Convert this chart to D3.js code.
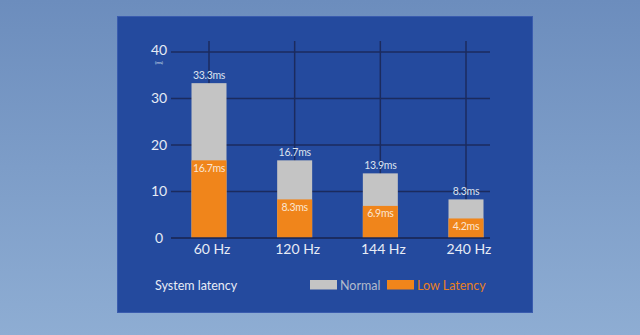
<!DOCTYPE html>
<html>
<head>
<meta charset="utf-8">
<script src="https://cdn.jsdelivr.net/npm/d3@7/dist/d3.min.js"></script>
<style>
  html, body { margin: 0; padding: 0; }
  body { width: 640px; height: 335px; overflow: hidden; }
  svg { display: block; font-family: Lato, "Open Sans", sans-serif; }
</style>
</head>
<body>
<svg id="chart" width="640" height="335"></svg>
<script>
// ---- data ----
const categories = ["60 Hz", "120 Hz", "144 Hz", "240 Hz"];
const normalValues = [33.3, 16.7, 13.9, 8.3];
const lowLatencyValues = [16.7, 8.3, 6.9, 4.2];
const normalLabels = ["33.3ms", "16.7ms", "13.9ms", "8.3ms"];
const lowLatencyLabels = ["16.7ms", "8.3ms", "6.9ms", "4.2ms"];
const yTicks = [0, 10, 20, 30, 40];
const legendItems = ["Normal", "Low Latency"];

const svg = d3.select("#chart");

// background gradient
const defs = svg.append("defs");
const bg = defs.append("linearGradient").attr("id", "bg").attr("x1", 0).attr("y1", 0).attr("x2", 0).attr("y2", 1);
bg.append("stop").attr("offset", "0%").attr("stop-color", "#6c8dbd");
bg.append("stop").attr("offset", "100%").attr("stop-color", "#8eadd3");
svg.append("rect").attr("width", 640).attr("height", 335).attr("fill", "url(#bg)");

// panel
svg.append("rect").attr("x", 117.5).attr("y", 16.5).attr("width", 415).attr("height", 296)
  .attr("fill", "#244a9e").attr("stroke", "#3a5cae").attr("stroke-width", 1);

// scales
const y = d3.scaleLinear().domain([0, 40]).range([238, 52]);
const x = d3.scalePoint().domain(categories).range([209, 466]);
const barW = 35;

const grid = svg.append("g");
grid.selectAll("line.h").data(yTicks).join("line")
  .attr("x1", 171).attr("x2", 490)
  .attr("y1", d => y(d)).attr("y2", d => y(d))
  .attr("stroke", "#1b2b5e").attr("stroke-width", 1.5);
grid.selectAll("line.v").data(categories).join("line")
  .attr("x1", d => x(d)).attr("x2", d => x(d))
  .attr("y1", 41).attr("y2", y(0))
  .attr("stroke", "#1b2b5e").attr("stroke-width", 1.5);

// y tick labels
svg.append("g").selectAll("text").data(yTicks).join("text")
  .attr("x", 159).attr("y", d => y(d) - (d === 40 ? 2 : 0)).attr("dy", "0.35em")
  .attr("text-anchor", "middle").attr("fill", "#e6ebf5")
  .attr("font-size", 14).text(d => d);
svg.append("text").attr("x", 159).attr("y", 64).attr("text-anchor", "middle")
  .attr("fill", "#dfe5f1").attr("font-size", 4.5).text("(ms)");

// bars
const bars = svg.append("g");
bars.selectAll("rect.n").data(categories).join("rect")
  .attr("x", d => x(d) - barW / 2).attr("width", barW)
  .attr("y", (d, i) => y(normalValues[i]))
  .attr("height", (d, i) => y(0) - y(normalValues[i]))
  .attr("fill", "#c4c4c4");
bars.selectAll("rect.l").data(categories).join("rect")
  .attr("x", d => x(d) - barW / 2).attr("width", barW)
  .attr("y", (d, i) => y(lowLatencyValues[i]))
  .attr("height", (d, i) => y(0) - y(lowLatencyValues[i]))
  .attr("fill", "#f0851b");

svg.append("line").attr("x1", 171).attr("x2", 490).attr("y1", y(0)).attr("y2", y(0))
  .attr("stroke", "#1b2b5e").attr("stroke-width", 1.5);

// value labels
svg.append("g").selectAll("text").data(categories).join("text")
  .attr("x", d => x(d)).attr("y", (d, i) => y(normalValues[i]) - 4)
  .attr("text-anchor", "middle").attr("fill", "#dde3ef").attr("font-size", 10.5)
  .attr("letter-spacing", -0.3)
  .text((d, i) => normalLabels[i]);
svg.append("g").selectAll("text").data(categories).join("text")
  .attr("x", d => x(d)).attr("y", (d, i) => y(lowLatencyValues[i]) + 11.5)
  .attr("text-anchor", "middle").attr("fill", "#fbe6d2").attr("font-size", 10.5)
  .attr("letter-spacing", -0.3)
  .text((d, i) => lowLatencyLabels[i]);

// x labels
svg.append("g").selectAll("text").data(categories).join("text")
  .attr("x", d => x(d) + 3).attr("y", 254)
  .attr("text-anchor", "middle").attr("fill", "#e8ecf6").attr("font-size", 14)
  .text(d => d);

// title
svg.append("text").attr("x", 155).attr("y", 290).attr("fill", "#e8ecf6")
  .attr("font-size", 12.5).text("System latency");

// legend
const legendColors = ["#c4c4c4", "#f0851b"];
const legendTextColors = ["#b3bbcc", "#e8801e"];
const legendX = [310, 387];
const lg = svg.append("g");
lg.selectAll("rect").data(legendItems).join("rect")
  .attr("x", (d, i) => legendX[i]).attr("y", 280).attr("width", 27).attr("height", 9.5)
  .attr("fill", (d, i) => legendColors[i]);
lg.selectAll("text").data(legendItems).join("text")
  .attr("x", (d, i) => legendX[i] + 30).attr("y", 290)
  .attr("fill", (d, i) => legendTextColors[i]).attr("font-size", 12.5)
  .text(d => d);
</script>
</body>
</html>
